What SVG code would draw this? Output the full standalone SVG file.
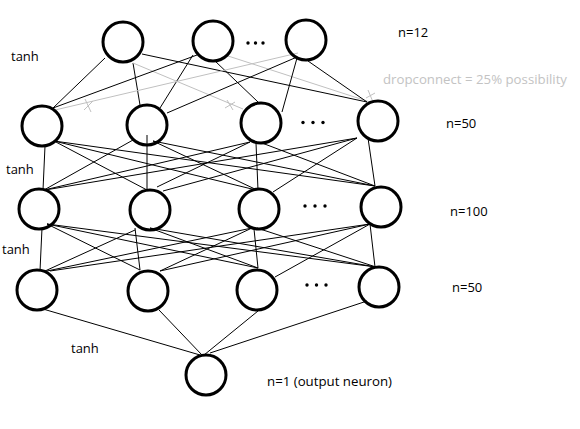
<svg xmlns="http://www.w3.org/2000/svg" width="580" height="429" viewBox="0 0 580 429">
<style>
.n{fill:none;stroke:#000;stroke-width:3}
.c{stroke:#000;stroke-width:1;fill:none}
.d{stroke:#c0c0c0;stroke-width:1;fill:none}
.dot{fill:#000}
text{font-family:"Open Sans","Noto Sans",sans-serif;font-size:13px;fill:#000}
.g{fill:#c3c3c3}
</style>
<rect width="580" height="429" fill="#fff"/>
<g id="connectors">
<!-- top to layer 2 -->
<line class="c" x1="105" y1="58" x2="53" y2="108"/>
<line class="c" x1="133" y1="63" x2="140" y2="105"/>
<line class="d" x1="133" y1="63" x2="243" y2="109"/>
<line class="c" x1="142" y1="54" x2="367" y2="102"/>
<line class="c" x1="197" y1="55" x2="53" y2="108"/>
<line class="c" x1="193" y1="55" x2="160" y2="108"/>
<line class="c" x1="215" y1="61" x2="258" y2="102"/>
<line class="d" x1="225" y1="55" x2="370" y2="102"/>
<line class="d" x1="298" y1="53" x2="55" y2="110"/>
<line class="c" x1="297" y1="57" x2="167" y2="113"/>
<line class="c" x1="297" y1="58" x2="282" y2="112"/>
<line class="c" x1="308" y1="61" x2="367" y2="102"/>
<!-- dropconnect marks -->
<path class="d" d="M85 99 L91 112 M84 110 L93 101"/>
<path class="d" d="M227 100 L233 110 M225 108 L235 102"/>
<path class="d" d="M368 90 L373 102 M366 98 L375 93"/>
<!-- layer 2 to layer 3 -->
<line class="c" x1="45" y1="146" x2="43" y2="190"/>
<line class="c" x1="54" y1="141" x2="147" y2="190"/>
<line class="c" x1="54" y1="141" x2="256" y2="190"/>
<line class="c" x1="54" y1="141" x2="375" y2="186"/>
<line class="c" x1="133" y1="140" x2="44" y2="190"/>
<line class="c" x1="147" y1="135" x2="147" y2="190"/>
<line class="c" x1="153" y1="141" x2="257" y2="190"/>
<line class="c" x1="153" y1="141" x2="375" y2="186"/>
<line class="c" x1="250" y1="142" x2="44" y2="190"/>
<line class="c" x1="250" y1="142" x2="157" y2="187"/>
<line class="c" x1="256" y1="143" x2="258" y2="190"/>
<line class="c" x1="262" y1="143" x2="375" y2="186"/>
<line class="c" x1="357" y1="138" x2="45" y2="190"/>
<line class="c" x1="357" y1="138" x2="163" y2="191"/>
<line class="c" x1="357" y1="138" x2="273" y2="192"/>
<line class="c" x1="368" y1="138" x2="375" y2="186"/>
<!-- layer 3 to layer 4 -->
<line class="c" x1="42" y1="228" x2="40" y2="271"/>
<line class="c" x1="47" y1="224" x2="140" y2="270"/>
<line class="c" x1="47" y1="224" x2="258" y2="268"/>
<line class="c" x1="47" y1="224" x2="376" y2="267"/>
<line class="c" x1="135" y1="230" x2="45" y2="271"/>
<line class="c" x1="135" y1="228" x2="140" y2="270"/>
<line class="c" x1="150" y1="228" x2="258" y2="268"/>
<line class="c" x1="150" y1="228" x2="376" y2="267"/>
<line class="c" x1="252" y1="228" x2="47" y2="271"/>
<line class="c" x1="252" y1="228" x2="160" y2="271"/>
<line class="c" x1="254" y1="229" x2="258" y2="268"/>
<line class="c" x1="257" y1="228" x2="376" y2="267"/>
<line class="c" x1="370" y1="224" x2="50" y2="271"/>
<line class="c" x1="370" y1="224" x2="160" y2="271"/>
<line class="c" x1="370" y1="224" x2="275" y2="277"/>
<line class="c" x1="370" y1="224" x2="375" y2="267"/>
<!-- layer 4 to output -->
<line class="c" x1="43" y1="309" x2="200" y2="355"/>
<line class="c" x1="159" y1="310" x2="202" y2="355"/>
<line class="c" x1="258" y1="311" x2="204" y2="355"/>
<line class="c" x1="367" y1="301" x2="210" y2="353"/>
</g>
<g id="t1"><ellipse class="n" cx="123" cy="42" rx="20" ry="20"/></g>
<g id="t2"><ellipse class="n" cx="213" cy="41" rx="20" ry="20"/></g>
<g id="t3"><ellipse class="n" cx="306" cy="40" rx="20" ry="20"/></g>
<g id="a1"><ellipse class="n" cx="42" cy="126" rx="20" ry="20"/></g>
<g id="a2"><ellipse class="n" cx="147" cy="125" rx="20" ry="20"/></g>
<g id="a3"><ellipse class="n" cx="261" cy="123" rx="20" ry="20"/></g>
<g id="a4"><ellipse class="n" cx="378" cy="121" rx="20" ry="20"/></g>
<g id="b1"><ellipse class="n" cx="39" cy="209" rx="20" ry="20"/></g>
<g id="b2"><ellipse class="n" cx="150" cy="210" rx="20" ry="20"/></g>
<g id="b3"><ellipse class="n" cx="259" cy="209" rx="20" ry="20"/></g>
<g id="b4"><ellipse class="n" cx="381" cy="207" rx="20" ry="20"/></g>
<g id="c1"><ellipse class="n" cx="37" cy="290" rx="20" ry="20"/></g>
<g id="c2"><ellipse class="n" cx="148" cy="291" rx="20" ry="20"/></g>
<g id="c3"><ellipse class="n" cx="257" cy="290" rx="20" ry="20"/></g>
<g id="c4"><ellipse class="n" cx="379" cy="287" rx="20" ry="20"/></g>
<g id="out"><ellipse class="n" cx="206" cy="375" rx="20" ry="20"/></g>
<g id="dots">
<circle class="dot" cx="248" cy="43" r="1.7"/><circle class="dot" cx="255.5" cy="43" r="1.7"/><circle class="dot" cx="263" cy="43" r="1.7"/>
<circle class="dot" cx="303" cy="122.5" r="1.7"/><circle class="dot" cx="313" cy="122.5" r="1.7"/><circle class="dot" cx="323" cy="122.5" r="1.7"/>
<circle class="dot" cx="305" cy="206" r="1.7"/><circle class="dot" cx="315" cy="206" r="1.7"/><circle class="dot" cx="325" cy="206" r="1.7"/>
<circle class="dot" cx="307" cy="285" r="1.7"/><circle class="dot" cx="316.5" cy="285" r="1.7"/><circle class="dot" cx="326" cy="285" r="1.7"/>
</g>
<g id="labels">
<text x="11" y="61">tanh</text>
<text x="6" y="174">tanh</text>
<text x="2" y="254">tanh</text>
<text x="71" y="353">tanh</text>
<text x="398" y="37">n=12</text>
<text class="g" x="383" y="84" textLength="184" lengthAdjust="spacingAndGlyphs">dropconnect = 25% possibility</text>
<text x="446" y="128">n=50</text>
<text x="450" y="216">n=100</text>
<text x="452" y="292">n=50</text>
<text x="267" y="386" textLength="125" lengthAdjust="spacingAndGlyphs">n=1 (output neuron)</text>
</g>
</svg>
